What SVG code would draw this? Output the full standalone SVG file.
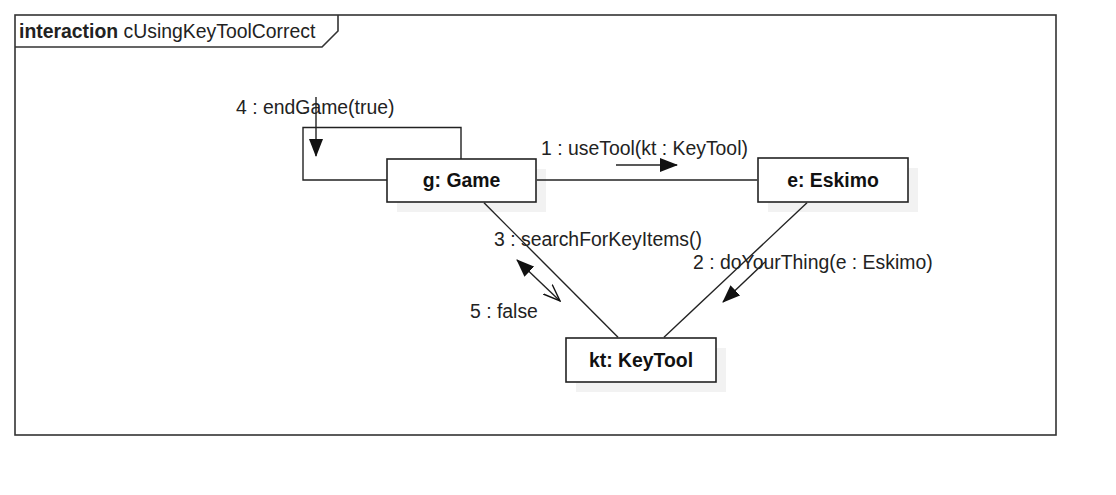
<svg xmlns="http://www.w3.org/2000/svg" width="1116" height="495" viewBox="0 0 1116 495">
<style>
text{font-family:"Liberation Sans",Arial,Helvetica,sans-serif;font-size:19.4px;fill:#222}
.b{font-weight:bold;text-anchor:middle;fill:#111}
.box{fill:#fff;stroke:#222;stroke-width:1.6}
.sh{fill:#f2f2f2}
.ln{fill:none;stroke:#222;stroke-width:1.4}
.fr{fill:none;stroke:#333;stroke-width:1.6}
</style>
<defs>
<marker id="fill" viewBox="0 0 18 14" refX="17" refY="7" markerWidth="18" markerHeight="14" markerUnits="userSpaceOnUse" orient="auto-start-reverse">
<path d="M0,0 L18,7 L0,14 z" fill="#111"/>
</marker>
<marker id="open" viewBox="0 0 18 14" refX="17" refY="7" markerWidth="18" markerHeight="14" markerUnits="userSpaceOnUse" orient="auto">
<path d="M0,0.5 L17,7 L0,13.5" fill="none" stroke="#111" stroke-width="1.4"/>
</marker>
</defs>
<rect x="0" y="0" width="1116" height="495" fill="#fff"/>
<g id="frame">
<rect class="fr" x="15" y="15" width="1041" height="420"/>
<path class="fr" d="M15,47 L322,47 L338,31 L338,15"/>
<text x="19" y="38"><tspan font-weight="bold">interaction</tspan> cUsingKeyToolCorrect</text>
</g>
<g id="game">
<rect class="sh" x="397" y="169" width="149" height="43"/>
<rect class="box" x="387" y="159" width="149" height="43"/>
<text class="b" x="461.5" y="187">g: Game</text>
</g>
<g id="eskimo">
<rect class="sh" x="768" y="168" width="150" height="44"/>
<rect class="box" x="758" y="158" width="150" height="44"/>
<text class="b" x="833" y="186.5">e: Eskimo</text>
</g>
<g id="keytool">
<rect class="sh" x="576" y="348" width="150" height="44"/>
<rect class="box" x="566" y="338" width="150" height="44"/>
<text class="b" x="641" y="366.5">kt: KeyTool</text>
</g>
<g id="connectors">
<path class="ln" d="M387,180 L303,180 L303,127.5 L461,127.5 L461,159"/>
<line class="ln" x1="536.8" y1="180" x2="757.2" y2="180"/>
<line class="ln" x1="484" y1="202.8" x2="618" y2="337.2"/>
<line class="ln" x1="807" y1="202.8" x2="664" y2="337.2"/>
<line class="ln" x1="316" y1="97" x2="316" y2="156" marker-end="url(#fill)"/>
<text x="236" y="114">4 : endGame(true)</text>
<line class="ln" x1="616" y1="165" x2="677" y2="165" marker-end="url(#fill)"/>
<text x="541" y="155">1 : useTool(kt : KeyTool)</text>
<line class="ln" x1="765" y1="262" x2="723" y2="302" marker-end="url(#fill)"/>
<text x="693" y="269">2 : doYourThing(e : Eskimo)</text>
<line class="ln" x1="517" y1="260" x2="560" y2="301" marker-start="url(#fill)" marker-end="url(#open)"/>
<text x="494" y="246">3 : searchForKeyItems()</text>
<text x="470" y="318">5 : false</text>
</g>
</svg>
